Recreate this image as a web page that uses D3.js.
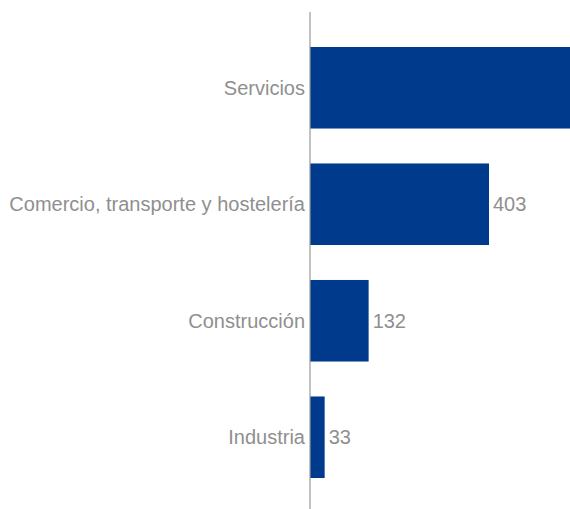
<!DOCTYPE html>
<html>
<head>
<meta charset="utf-8">
<script src="https://cdn.jsdelivr.net/npm/d3@7/dist/d3.min.js"></script>
<style>
  html, body { margin: 0; padding: 0; background: #fff; }
  svg { display: block; }
</style>
</head>
<body>
<svg id="chart" width="570" height="509"></svg>
<script>
const categories = ["Servicios", "Comercio, transporte y hostelería", "Construcción", "Industria"];
const values = [1000, 403, 132, 33];

const width = 570, height = 509;
const axisX = 310;
const svg = d3.select("#chart");

const x = d3.scaleLinear().domain([0, 403]).range([axisX, 489]);
const y = d3.scaleBand().domain(categories).range([29.5, 495.5]).paddingInner(0.3).paddingOuter(0.15);

const data = categories.map((c, i) => ({ c, v: values[i] }));

svg.selectAll("rect.bar").data(data).enter().append("rect")
  .attr("class", "bar")
  .attr("x", x(0))
  .attr("y", d => y(d.c))
  .attr("width", d => Math.min(x(d.v), width) - x(0))
  .attr("height", y.bandwidth())
  .attr("fill", "#003a8c");

svg.append("line")
  .attr("x1", axisX).attr("x2", axisX)
  .attr("y1", 12).attr("y2", height)
  .attr("stroke", "#999").attr("stroke-width", 1.2);

const font = "'Liberation Sans', Arial, sans-serif";
const fs = 20;

svg.selectAll("text.cat").data(data).enter().append("text")
  .attr("class", "cat")
  .attr("x", axisX - 5)
  .attr("y", d => y(d.c) + y.bandwidth() / 2)
  .attr("dy", "0.35em")
  .attr("text-anchor", "end")
  .attr("font-family", font)
  .attr("font-size", fs)
  .attr("fill", "#8f8f8f")
  .text(d => d.c);

// value labels that fall beyond the visible area are not shown (as in the reference)
svg.selectAll("text.val").data(data.filter(d => x(d.v) + 40 < width)).enter().append("text")
  .attr("class", "val")
  .attr("x", d => x(d.v) + 4)
  .attr("y", d => y(d.c) + y.bandwidth() / 2)
  .attr("dy", "0.35em")
  .attr("font-family", font)
  .attr("font-size", fs)
  .attr("fill", "#8f8f8f")
  .text(d => d.v);
</script>
</body>
</html>
